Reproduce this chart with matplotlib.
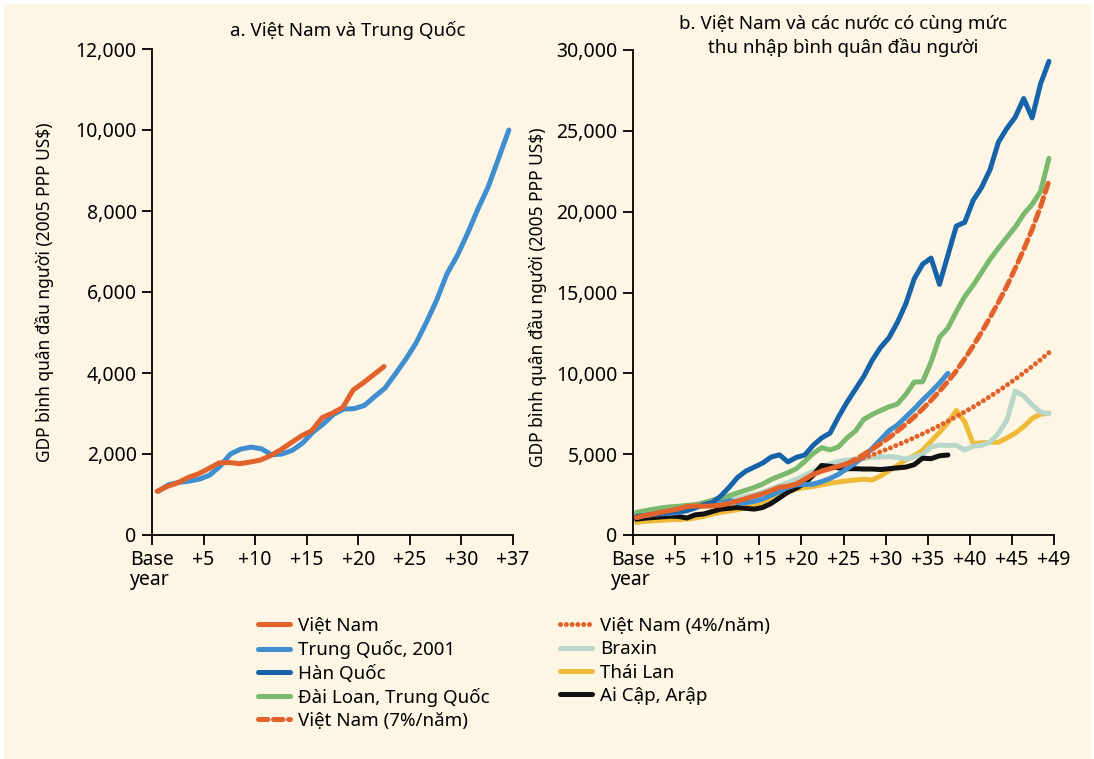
import numpy as np
import matplotlib
matplotlib.use("Agg")
import matplotlib.pyplot as plt
from matplotlib.ticker import FuncFormatter
from matplotlib.lines import Line2D

plt.rcParams['font.family'] = ['Noto Sans', 'DejaVu Sans']

# ---- Panel a: Việt Nam và Trung Quốc (vị trí trục như hình gốc) ----
a_ticks = [0, 5, 10, 15, 20, 25, 30, 35]
a_ticklabels = ['Base\nyear', '+5', '+10', '+15', '+20', '+25', '+30', '+37']

a_vn_x = np.arange(23) + 0.5
a_vn = [1080, 1200, 1290, 1420, 1510, 1640, 1780, 1790, 1760, 1800, 1850, 1960,
        2110, 2280, 2450, 2580, 2900, 3010, 3150, 3580, 3760, 3960, 4160]

a_cn_x = np.arange(35) + 0.6
a_cn = [1080, 1240, 1300, 1330, 1380, 1480, 1700, 2000, 2120, 2170, 2130, 1980,
        2000, 2090, 2270, 2540, 2740, 2980, 3110, 3120, 3200, 3420, 3630, 3980,
        4340, 4740, 5250, 5800, 6450, 6900, 7450, 8050, 8600, 9300, 10000]

# ---- Panel b: Việt Nam và các nước có cùng mức thu nhập ----
b_ticks = [0, 5, 10, 15, 20, 25, 30, 35, 40, 45, 50]
b_ticklabels = ['Base\nyear', '+5', '+10', '+15', '+20', '+25', '+30', '+35',
                '+40', '+45', '+49']

b_vn_x = np.arange(26) + 0.4
b_vn = [1080, 1200, 1300, 1420, 1510, 1620, 1760, 1800, 1780, 1800, 1850, 1950,
        2100, 2250, 2400, 2550, 2750, 2950, 3020, 3150, 3450, 3750, 3950, 4100,
        4250, 4400]

b_proj_x = np.arange(25) + 25.4
b_vn7 = [4400, 4680, 4980, 5300, 5650, 6020, 6420, 6850, 7300, 7800, 8330, 8900,
         9500, 10150, 10900, 11700, 12550, 13450, 14400, 15400, 16500, 17650,
         18900, 20300, 21900]
b_vn4 = [4400, 4580, 4760, 4950, 5150, 5350, 5570, 5790, 6020, 6260, 6510, 6770,
         7040, 7330, 7620, 7920, 8240, 8570, 8910, 9270, 9640, 10030, 10430,
         10840, 11280]

b_cn_x = np.arange(38) + 0.4
b_cn = [1080, 1200, 1280, 1320, 1340, 1400, 1500, 1700, 1950, 2100, 2170, 2150,
        2000, 2000, 2080, 2230, 2450, 2700, 2950, 3100, 3120, 3150, 3300, 3500,
        3750, 4100, 4450, 4850, 5350, 5900, 6450, 6800, 7300, 7800, 8350, 8850,
        9400, 10000]

b_full_x = np.arange(50) + 0.4
b_kr = [1150, 1200, 1280, 1350, 1420, 1480, 1520, 1680, 1880, 2000, 2400, 2940,
        3550, 3950, 4200, 4450, 4820, 4960, 4520, 4800, 4950, 5550, 6000, 6300,
        7300, 8200, 9000, 9800, 10800, 11600, 12200, 13150, 14300, 15850, 16750,
        17130, 15500, 17310, 19110, 19340, 20700, 21500, 22600, 24300, 25150,
        25850, 27000, 25800, 27900, 29300]
b_tw = [1400, 1500, 1590, 1680, 1740, 1780, 1830, 1880, 2000, 2150, 2300, 2420,
        2600, 2770, 2940, 3150, 3430, 3650, 3850, 4100, 4550, 5050, 5400, 5260,
        5450, 6000, 6420, 7150, 7450, 7700, 7930, 8100, 8700, 9460, 9480, 10700,
        12240, 12800, 13820, 14750, 15450, 16250, 17050, 17750, 18400, 19050,
        19850, 20450, 21250, 23300]
b_br = [1300, 1380, 1450, 1520, 1580, 1640, 1720, 1800, 1900, 1980, 2050, 2150,
        2250, 2380, 2500, 2650, 2850, 3050, 3250, 3450, 3700, 3950, 4180, 4400,
        4550, 4640, 4700, 4760, 4800, 4830, 4850, 4800, 4700, 4820, 4980, 5450,
        5560, 5540, 5550, 5260, 5500, 5540, 5750, 6300, 7100, 8900, 8600, 8050,
        7600, 7500]
b_th = [780, 850, 880, 910, 940, 960, 990, 1050, 1150, 1300, 1400, 1480, 1560,
        1680, 1800, 1950, 2200, 2450, 2700, 2850, 2930, 3000, 3100, 3200, 3280,
        3350, 3400, 3450, 3400, 3650, 3980, 4300, 4650, 4900, 5250, 5800, 6350,
        6950, 7700, 7000, 5650, 5700, 5730, 5740, 6000, 6300, 6700, 7200, 7480,
        7530]

b_eg_x = np.arange(38) + 0.4
b_eg = [980, 1040, 1080, 1120, 1160, 1150, 1050, 1250, 1300, 1450, 1600, 1650,
        1700, 1650, 1600, 1700, 1950, 2300, 2650, 2900, 3200, 3700, 4300, 4250,
        4150, 4100, 4100, 4080, 4080, 4050, 4100, 4150, 4200, 4350, 4750, 4720,
        4900, 4950]

c_vn = '#e2622c'
c_cn = '#3f8ed0'
c_kr = '#1763aa'
c_tw = '#7bb96e'
c_br = '#b8d6ca'
c_th = '#efba38'
c_eg = '#111111'
bg = '#fdf6e4'

dotted = (0, (0.01, 1.15))
dashed = (0, (1.9, 1.1))

W, H = 1094, 759
fig = plt.figure(figsize=(W / 100, H / 100), dpi=100, facecolor='white')
fig.patches.append(plt.Rectangle((4 / W, 0), 1 - 8 / W, 1 - 4 / H,
                                 transform=fig.transFigure, color=bg, zorder=-10))

ax1 = fig.add_axes([152 / W, 1 - 535 / H, 361 / W, 486 / H])
ax2 = fig.add_axes([633 / W, 1 - 535 / H, 421 / W, 485 / H])

lw = 3.6
ax1.plot(a_cn_x, a_cn, color=c_cn, lw=lw, solid_capstyle='round')
ax1.plot(a_vn_x, a_vn, color=c_vn, lw=lw, solid_capstyle='round')

ax2.plot(b_full_x, b_th, color=c_th, lw=lw, solid_capstyle='round')
ax2.plot(b_full_x, b_br, color=c_br, lw=lw, solid_capstyle='round')
ax2.plot(b_eg_x, b_eg, color=c_eg, lw=lw, solid_capstyle='round')
ax2.plot(b_cn_x, b_cn, color=c_cn, lw=lw, solid_capstyle='round')
ax2.plot(b_full_x, b_tw, color=c_tw, lw=lw, solid_capstyle='round')
ax2.plot(b_full_x, b_kr, color=c_kr, lw=lw, solid_capstyle='round')
ax2.plot(b_proj_x, b_vn4, color=c_vn, lw=lw, linestyle=dotted,
         dash_capstyle='round')
ax2.plot(b_proj_x, b_vn7, color=c_vn, lw=lw, linestyle=dashed,
         dash_capstyle='round')
ax2.plot(b_vn_x, b_vn, color=c_vn, lw=lw, solid_capstyle='round')

fmt = FuncFormatter(lambda v, p: f'{int(v):,}')
for ax, ticks, labels, ymax in [(ax1, a_ticks, a_ticklabels, 12000),
                                (ax2, b_ticks, b_ticklabels, 30000)]:
    ax.set_facecolor('none')
    ax.set_xlim(ticks[0], ticks[-1])
    ax.set_ylim(0, ymax)
    ax.set_xticks(ticks)
    ax.set_xticklabels(labels)
    ax.set_yticks(np.linspace(0, ymax, 7))
    ax.yaxis.set_major_formatter(fmt)
    for s in ['top', 'right']:
        ax.spines[s].set_visible(False)
    for s in ['left', 'bottom']:
        ax.spines[s].set_linewidth(1.3)
    ax.tick_params(direction='out', length=7, width=1.3, labelsize=14, pad=4)
    ax.get_xticklabels()[0].set_multialignment('left')
    ax.get_xticklabels()[0].set_linespacing(1.0)
    ax.set_ylabel('GDP bình quân đầu người (2005 PPP US$)', fontsize=12.5)

ax1.yaxis.set_label_coords(-0.272, 0.5)
ax2.yaxis.set_label_coords(-0.205, 0.49)

fig.text(348 / W, 1 - 30 / H, 'a. Việt Nam và Trung Quốc', ha='center',
         va='center', fontsize=13.5)
fig.text(843 / W, 1 - 36 / H, 'b. Việt Nam và các nước có cùng mức\nthu nhập bình quân đầu người',
         ha='center', va='center', fontsize=13.5, linespacing=1.3)

# chú giải
h1 = [Line2D([], [], color=c_vn, lw=lw),
      Line2D([], [], color=c_cn, lw=lw),
      Line2D([], [], color=c_kr, lw=lw),
      Line2D([], [], color=c_tw, lw=lw),
      Line2D([], [], color=c_vn, lw=lw, linestyle=dashed, dash_capstyle='round')]
l1 = ['Việt Nam', 'Trung Quốc, 2001', 'Hàn Quốc', 'Đài Loan, Trung Quốc',
      'Việt Nam (7%/năm)']
h2 = [Line2D([], [], color=c_vn, lw=lw, linestyle=dotted, dash_capstyle='round'),
      Line2D([], [], color=c_br, lw=lw),
      Line2D([], [], color=c_th, lw=lw),
      Line2D([], [], color=c_eg, lw=lw)]
l2 = ['Việt Nam (4%/năm)', 'Braxin', 'Thái Lan', 'Ai Cập, Arập']

for hs, ls, x0 in [(h1, l1, 258), (h2, l2, 560)]:
    leg = fig.legend(hs, ls, loc='upper left', bbox_to_anchor=(x0 / W, 1 - 617 / H),
                     frameon=False, fontsize=13.5, handlelength=1.7,
                     handletextpad=0.45, labelspacing=0.28, borderpad=0,
                     borderaxespad=0)
    for ln in leg.get_lines():
        ln.set_solid_capstyle('round')

fig.savefig('out.png', dpi=100, facecolor=fig.get_facecolor())
